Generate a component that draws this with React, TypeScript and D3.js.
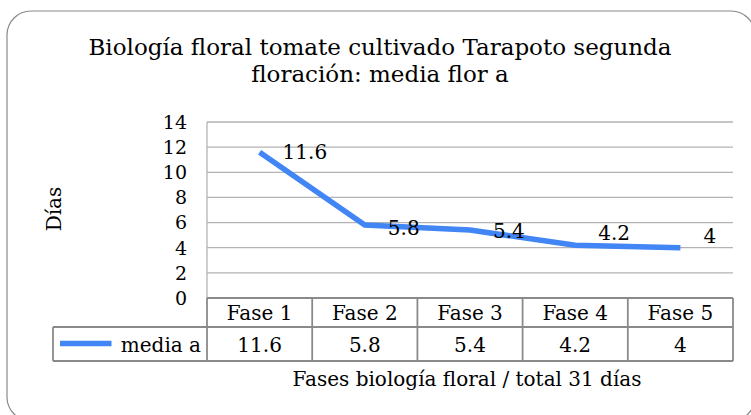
import React from 'react'
import * as d3 from 'd3'

const categories = ['Fase 1', 'Fase 2', 'Fase 3', 'Fase 4', 'Fase 5']
const values = [11.6, 5.8, 5.4, 4.2, 4]
const yTicks = [0, 2, 4, 6, 8, 10, 12, 14]
const seriesName = 'media a'
const titleLines = ['Biología floral tomate cultivado Tarapoto segunda', 'floración: media flor a']
const xTitle = 'Fases biología floral / total 31 días'
const yTitle = 'Días'
// excel nudges some labels above / below the line
const labelShift = [0, 3, 1, -12, -12]

const W = 751
const H = 415
const plot = { left: 207, right: 733, top: 122, bottom: 298 }
const table = { left: 53, rowMid: 327, bottom: 361 }

const serif = '"DejaVu Serif"'
const blue = '#4285f4'
const grid = '#b3b3b3'
const tline = '#8a8a8a'

const App = () => {
  const x = d3.scaleBand().domain(categories).range([plot.left, plot.right])
  const y = d3.scaleLinear().domain([0, 14]).range([plot.bottom, plot.top])
  const cx = (c: string) => (x(c) as number) + x.bandwidth() / 2

  const line = d3
    .line<number>()
    .x((d, i) => cx(categories[i]))
    .y(d => y(d))

  return (
    <svg width={W} height={H} style={{ position: 'absolute', left: 0, top: 0, background: '#fff' }}>
      <rect x={7} y={11} width={748} height={410} rx={24} fill="#fff" stroke="#8a8a8a" strokeWidth={1.2} />

      {/* title */}
      <text textAnchor="middle" fontFamily={serif} fontSize={23} fill="#000">
        <tspan x={380} y={55}>{titleLines[0]}</tspan>
        <tspan x={380} y={82}>{titleLines[1]}</tspan>
      </text>

      {/* gridlines */}
      {yTicks.map(t => (
        <line key={t} x1={plot.left} x2={plot.right} y1={y(t)} y2={y(t)} stroke={grid} strokeWidth={1.3} />
      ))}
      <line x1={plot.left} x2={plot.left} y1={plot.top} y2={plot.bottom} stroke={grid} strokeWidth={1.3} />

      {/* y ticks */}
      {yTicks.map(t => (
        <text key={t} x={187} y={y(t)} dy="0.36em" textAnchor="end" fontFamily={serif} fontSize={19}>
          {t}
        </text>
      ))}

      <text
        transform={`translate(61,${(plot.top + plot.bottom) / 2 - 1}) rotate(-90)`}
        textAnchor="middle"
        fontFamily={serif}
        fontSize={20}
      >
        {yTitle}
      </text>

      {/* series line */}
      <path d={line(values) as string} fill="none" stroke={blue} strokeWidth={5.5} />

      {/* data labels */}
      {values.map((v, i) => (
        <text
          key={i}
          x={cx(categories[i]) + 23}
          y={y(v) + 7 + labelShift[i]}
          fontFamily={serif}
          fontSize={20}
        >
          {v}
        </text>
      ))}

      {/* data table */}
      <g stroke={tline} strokeWidth={1.8}>
        <line x1={plot.left} x2={plot.right} y1={plot.bottom} y2={plot.bottom} />
        <line x1={table.left} x2={plot.right} y1={table.rowMid} y2={table.rowMid} />
        <line x1={table.left} x2={plot.right} y1={table.bottom} y2={table.bottom} />
        <line x1={table.left} x2={table.left} y1={table.rowMid} y2={table.bottom} />
        {categories.map(c => (
          <line key={c} x1={x(c)} x2={x(c)} y1={plot.bottom} y2={table.bottom} />
        ))}
        <line x1={plot.right} x2={plot.right} y1={plot.bottom} y2={table.bottom} />
      </g>
      {categories.map(c => (
        <text key={c} x={cx(c)} y={320} textAnchor="middle" fontFamily={serif} fontSize={20}>
          {c}
        </text>
      ))}
      {values.map((v, i) => (
        <text key={i} x={cx(categories[i])} y={351.5} textAnchor="middle" fontFamily={serif} fontSize={20}>
          {v}
        </text>
      ))}
      <line x1={60} x2={111.5} y1={343.5} y2={343.5} stroke={blue} strokeWidth={5.5} />
      <text x={201} y={351.5} textAnchor="end" fontFamily={serif} fontSize={20}>
        {seriesName}
      </text>

      <text x={467} y={386} textAnchor="middle" fontFamily={serif} fontSize={20}>
        {xTitle}
      </text>
    </svg>
  )
}

export default App
